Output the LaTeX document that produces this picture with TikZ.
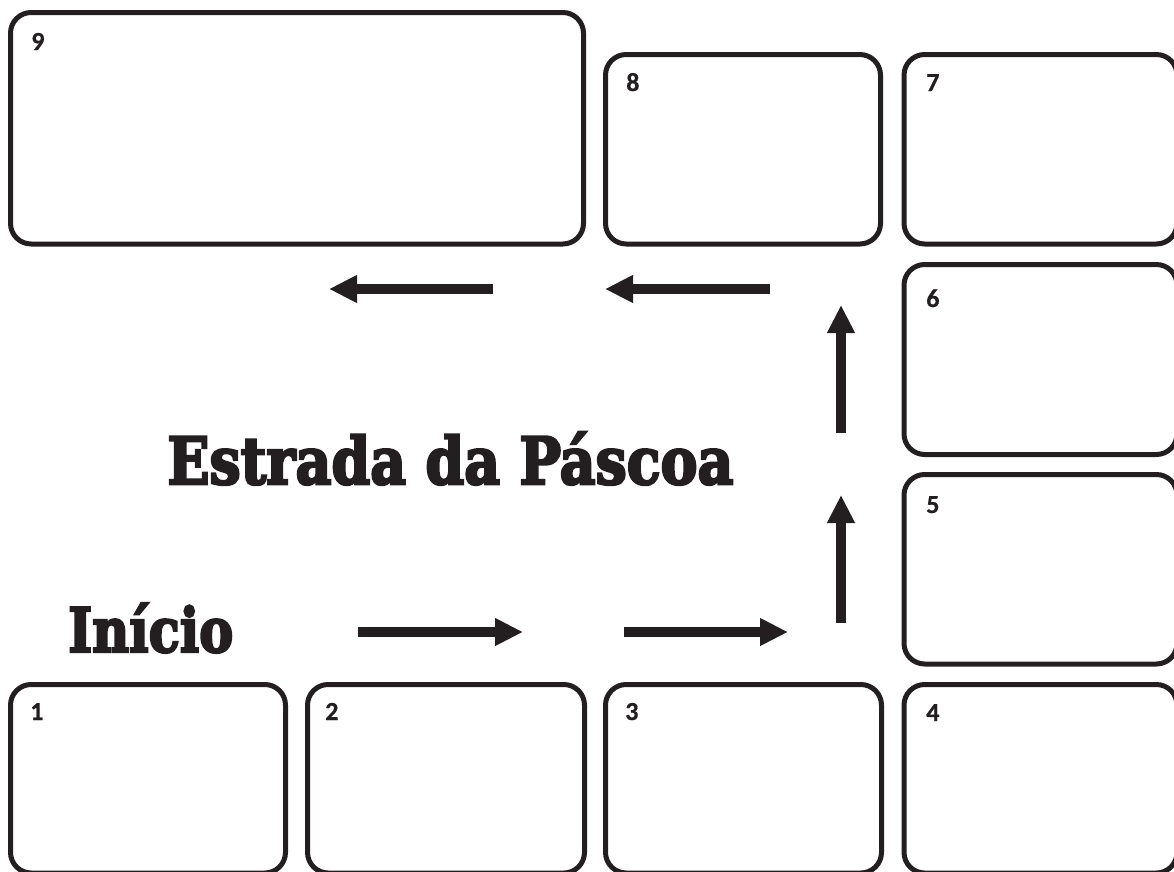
\documentclass[tikz,border=0pt]{standalone}
\usepackage{fontspec}
\usepackage{graphicx}
\usetikzlibrary{arrows.meta}
\newfontfamily\numfont{Carlito}[BoldFeatures={FakeBold=0.6}]
\newfontfamily\titlefont{DejaVu Serif}[BoldFeatures={FakeBold=4}]
\definecolor{ink}{HTML}{231F20}
\tikzset{
  box/.style={draw=ink, line width=3.75pt, rounded corners=15.5pt, rectangle, inner sep=0pt, fill=none},
  num/.style={anchor=base west, inner sep=0pt, text=ink, font=\numfont\bfseries\fontsize{19.5}{21}\selectfont},
  bigarrow/.style={draw=ink, line width=7.5pt, line cap=butt, -{Triangle[length=21pt,width=19.5pt]}},
  titletext/.style={anchor=base west, inner sep=0pt, text=ink}
}
\begin{document}
\begin{tikzpicture}[x=0.75pt,y=-0.75pt]
\useasboundingbox (0,0) rectangle (1174,871);
% boxes
\node[box, minimum width=573*0.75pt, minimum height=231.5*0.75pt] (b9) at (297,128.25) {};
\node[box, minimum width=275*0.75pt, minimum height=189.5*0.75pt] (b8) at (743,149.25) {};
\node[box, minimum width=273*0.75pt, minimum height=189.5*0.75pt] (b7) at (1040.5,149.25) {};
\node[box, minimum width=273*0.75pt, minimum height=190*0.75pt] (b6) at (1040.5,359.5) {};
\node[box, minimum width=273*0.75pt, minimum height=189.5*0.75pt] (b5) at (1040.5,569.25) {};
\node[box, minimum width=273*0.75pt, minimum height=188.5*0.75pt] (b4) at (1040.5,778.75) {};
\node[box, minimum width=275*0.75pt, minimum height=188.5*0.75pt] (b1) at (148,778.75) {};
\node[box, minimum width=277*0.75pt, minimum height=188.5*0.75pt] (b2) at (446,778.75) {};
\node[box, minimum width=276*0.75pt, minimum height=188.5*0.75pt] (b3) at (743.5,778.75) {};
% numbers
\node[num] (n9) at (31,50) {9};
\node[num] (n8) at (626,91) {8};
\node[num] (n7) at (926,91) {7};
\node[num] (n6) at (926,307) {6};
\node[num] (n5) at (926,513) {5};
\node[num] (n4) at (926,721) {4};
\node[num] (n1) at (30,720) {1};
\node[num] (n2) at (325,720) {2};
\node[num] (n3) at (625,720) {3};
% titles
\node[titletext] (title) at (167,484) {\resizebox{424.5pt}{39pt}{\titlefont\bfseries Estrada da Páscoa}};
\node[titletext] (inicio) at (68,652) {\resizebox{123.75pt}{36.75pt}{\titlefont\bfseries Início}};
% arrow coordinates
\coordinate (a1s) at (358,632); \coordinate (a1e) at (523,632);
\coordinate (a2s) at (624,632); \coordinate (a2e) at (788,632);
\coordinate (a3s) at (841,623); \coordinate (a3e) at (841,495);
\coordinate (a4s) at (841,433); \coordinate (a4e) at (841,305);
\coordinate (a5s) at (770,289); \coordinate (a5e) at (605,289);
\coordinate (a6s) at (493,289); \coordinate (a6e) at (329,289);
\draw[bigarrow] (a1s) -- (a1e);
\draw[bigarrow] (a2s) -- (a2e);
\draw[bigarrow] (a3s) -- (a3e);
\draw[bigarrow] (a4s) -- (a4e);
\draw[bigarrow] (a5s) -- (a5e);
\draw[bigarrow] (a6s) -- (a6e);
\end{tikzpicture}
\end{document}
